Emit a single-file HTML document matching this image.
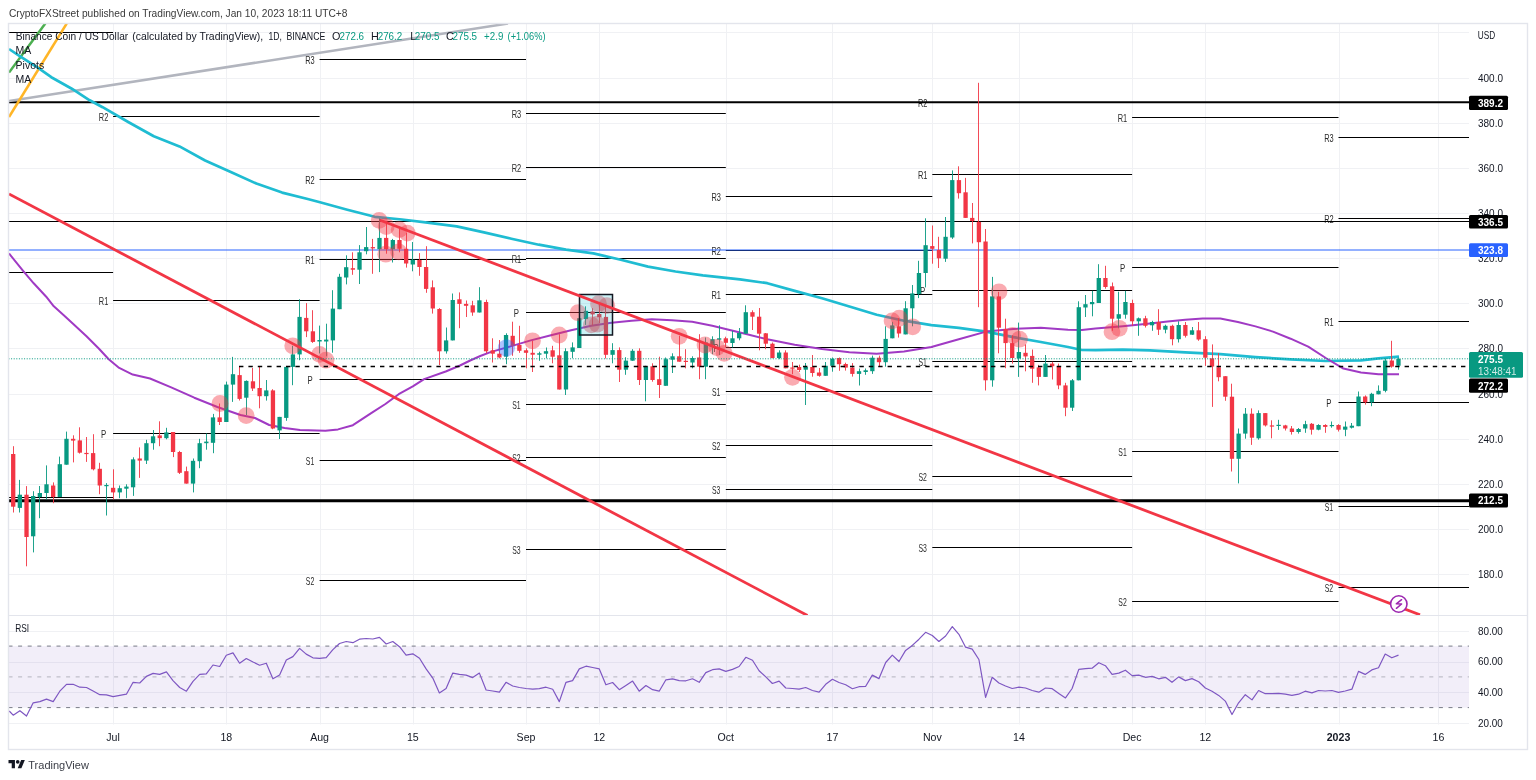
<!DOCTYPE html>
<html><head><meta charset="utf-8"><style>html,body{margin:0;padding:0;background:#fff;width:1536px;height:780px;overflow:hidden}</style></head><body>
<svg width="1536" height="780" viewBox="0 0 1536 780" style="display:block">
<defs>
<clipPath id="cm"><rect x="9.0" y="24.0" width="1460.0" height="591.0"/></clipPath>
<clipPath id="cr"><rect x="9.0" y="616.0" width="1460.0" height="108.5"/></clipPath>
</defs>
<rect width="1536" height="780" fill="#fff"/>
<text x="8.9" y="16.6" font-family="'Liberation Sans', Arial, sans-serif" font-size="10.6" fill="#3a3a3a" textLength="338.6" lengthAdjust="spacingAndGlyphs">CryptoFXStreet published on TradingView.com, Jan 10, 2023 18:11 UTC+8</text>
<line x1="113.5" y1="23.5" x2="113.5" y2="724.5" stroke="#f0f1f4" stroke-width="1"/>
<line x1="226.5" y1="23.5" x2="226.5" y2="724.5" stroke="#f0f1f4" stroke-width="1"/>
<line x1="320.5" y1="23.5" x2="320.5" y2="724.5" stroke="#f0f1f4" stroke-width="1"/>
<line x1="413.5" y1="23.5" x2="413.5" y2="724.5" stroke="#f0f1f4" stroke-width="1"/>
<line x1="526.5" y1="23.5" x2="526.5" y2="724.5" stroke="#f0f1f4" stroke-width="1"/>
<line x1="599.5" y1="23.5" x2="599.5" y2="724.5" stroke="#f0f1f4" stroke-width="1"/>
<line x1="726.5" y1="23.5" x2="726.5" y2="724.5" stroke="#f0f1f4" stroke-width="1"/>
<line x1="832.5" y1="23.5" x2="832.5" y2="724.5" stroke="#f0f1f4" stroke-width="1"/>
<line x1="932.5" y1="23.5" x2="932.5" y2="724.5" stroke="#f0f1f4" stroke-width="1"/>
<line x1="1019.5" y1="23.5" x2="1019.5" y2="724.5" stroke="#f0f1f4" stroke-width="1"/>
<line x1="1132.5" y1="23.5" x2="1132.5" y2="724.5" stroke="#f0f1f4" stroke-width="1"/>
<line x1="1205.5" y1="23.5" x2="1205.5" y2="724.5" stroke="#f0f1f4" stroke-width="1"/>
<line x1="1339.5" y1="23.5" x2="1339.5" y2="724.5" stroke="#f0f1f4" stroke-width="1"/>
<line x1="1438.5" y1="23.5" x2="1438.5" y2="724.5" stroke="#f0f1f4" stroke-width="1"/>
<line x1="8.5" y1="574.5" x2="1469.0" y2="574.5" stroke="#f0f1f4" stroke-width="1"/>
<line x1="8.5" y1="529.5" x2="1469.0" y2="529.5" stroke="#f0f1f4" stroke-width="1"/>
<line x1="8.5" y1="484.5" x2="1469.0" y2="484.5" stroke="#f0f1f4" stroke-width="1"/>
<line x1="8.5" y1="439.5" x2="1469.0" y2="439.5" stroke="#f0f1f4" stroke-width="1"/>
<line x1="8.5" y1="394.5" x2="1469.0" y2="394.5" stroke="#f0f1f4" stroke-width="1"/>
<line x1="8.5" y1="348.5" x2="1469.0" y2="348.5" stroke="#f0f1f4" stroke-width="1"/>
<line x1="8.5" y1="303.5" x2="1469.0" y2="303.5" stroke="#f0f1f4" stroke-width="1"/>
<line x1="8.5" y1="258.5" x2="1469.0" y2="258.5" stroke="#f0f1f4" stroke-width="1"/>
<line x1="8.5" y1="213.5" x2="1469.0" y2="213.5" stroke="#f0f1f4" stroke-width="1"/>
<line x1="8.5" y1="168.5" x2="1469.0" y2="168.5" stroke="#f0f1f4" stroke-width="1"/>
<line x1="8.5" y1="123.5" x2="1469.0" y2="123.5" stroke="#f0f1f4" stroke-width="1"/>
<line x1="8.5" y1="78.5" x2="1469.0" y2="78.5" stroke="#f0f1f4" stroke-width="1"/>
<line x1="8.5" y1="32.5" x2="1469.0" y2="32.5" stroke="#f0f1f4" stroke-width="1"/>
<line x1="8.5" y1="631.5" x2="1469.0" y2="631.5" stroke="#f0f1f4" stroke-width="1"/>
<line x1="8.5" y1="662.5" x2="1469.0" y2="662.5" stroke="#f0f1f4" stroke-width="1"/>
<line x1="8.5" y1="692.5" x2="1469.0" y2="692.5" stroke="#f0f1f4" stroke-width="1"/>
<line x1="8.5" y1="723.5" x2="1469.0" y2="723.5" stroke="#f0f1f4" stroke-width="1"/>
<g clip-path="url(#cm)">
<line x1="8.5" y1="32.5" x2="113.1" y2="32.5" stroke="#000" stroke-width="1"/>
<line x1="8.5" y1="272.5" x2="113.1" y2="272.5" stroke="#000" stroke-width="1"/>
<line x1="8.5" y1="497.5" x2="113.1" y2="497.5" stroke="#000" stroke-width="1"/>
<line x1="113.1" y1="116.5" x2="319.6" y2="116.5" stroke="#000" stroke-width="1"/>
<text x="98.8" y="121.1" font-family="'Liberation Sans', Arial, sans-serif" font-size="10.5" fill="#2a2a2a" textLength="9.5" lengthAdjust="spacingAndGlyphs">R2</text>
<line x1="113.1" y1="300.5" x2="319.6" y2="300.5" stroke="#000" stroke-width="1"/>
<text x="98.8" y="305.2" font-family="'Liberation Sans', Arial, sans-serif" font-size="10.5" fill="#2a2a2a" textLength="9.5" lengthAdjust="spacingAndGlyphs">R1</text>
<line x1="113.1" y1="433.5" x2="319.6" y2="433.5" stroke="#000" stroke-width="1"/>
<text x="100.9" y="438.2" font-family="'Liberation Sans', Arial, sans-serif" font-size="10.5" fill="#2a2a2a" textLength="5.2" lengthAdjust="spacingAndGlyphs">P</text>
<line x1="319.6" y1="59.5" x2="526.0" y2="59.5" stroke="#000" stroke-width="1"/>
<text x="305.2" y="63.9" font-family="'Liberation Sans', Arial, sans-serif" font-size="10.5" fill="#2a2a2a" textLength="9.5" lengthAdjust="spacingAndGlyphs">R3</text>
<line x1="319.6" y1="179.5" x2="526.0" y2="179.5" stroke="#000" stroke-width="1"/>
<text x="305.2" y="183.8" font-family="'Liberation Sans', Arial, sans-serif" font-size="10.5" fill="#2a2a2a" textLength="9.5" lengthAdjust="spacingAndGlyphs">R2</text>
<line x1="319.6" y1="259.5" x2="526.0" y2="259.5" stroke="#000" stroke-width="1"/>
<text x="305.2" y="264.4" font-family="'Liberation Sans', Arial, sans-serif" font-size="10.5" fill="#2a2a2a" textLength="9.5" lengthAdjust="spacingAndGlyphs">R1</text>
<line x1="319.6" y1="379.5" x2="526.0" y2="379.5" stroke="#000" stroke-width="1"/>
<text x="307.4" y="384.4" font-family="'Liberation Sans', Arial, sans-serif" font-size="10.5" fill="#2a2a2a" textLength="5.2" lengthAdjust="spacingAndGlyphs">P</text>
<line x1="319.6" y1="460.5" x2="526.0" y2="460.5" stroke="#000" stroke-width="1"/>
<text x="305.8" y="465.1" font-family="'Liberation Sans', Arial, sans-serif" font-size="10.5" fill="#2a2a2a" textLength="8.4" lengthAdjust="spacingAndGlyphs">S1</text>
<line x1="319.6" y1="580.5" x2="526.0" y2="580.5" stroke="#000" stroke-width="1"/>
<text x="305.8" y="584.9" font-family="'Liberation Sans', Arial, sans-serif" font-size="10.5" fill="#2a2a2a" textLength="8.4" lengthAdjust="spacingAndGlyphs">S2</text>
<line x1="526.0" y1="113.5" x2="725.8" y2="113.5" stroke="#000" stroke-width="1"/>
<text x="511.7" y="117.8" font-family="'Liberation Sans', Arial, sans-serif" font-size="10.5" fill="#2a2a2a" textLength="9.5" lengthAdjust="spacingAndGlyphs">R3</text>
<line x1="526.0" y1="167.5" x2="725.8" y2="167.5" stroke="#000" stroke-width="1"/>
<text x="511.7" y="171.8" font-family="'Liberation Sans', Arial, sans-serif" font-size="10.5" fill="#2a2a2a" textLength="9.5" lengthAdjust="spacingAndGlyphs">R2</text>
<line x1="526.0" y1="258.5" x2="725.8" y2="258.5" stroke="#000" stroke-width="1"/>
<text x="511.7" y="263.0" font-family="'Liberation Sans', Arial, sans-serif" font-size="10.5" fill="#2a2a2a" textLength="9.5" lengthAdjust="spacingAndGlyphs">R1</text>
<line x1="526.0" y1="312.5" x2="725.8" y2="312.5" stroke="#000" stroke-width="1"/>
<text x="513.8" y="316.8" font-family="'Liberation Sans', Arial, sans-serif" font-size="10.5" fill="#2a2a2a" textLength="5.2" lengthAdjust="spacingAndGlyphs">P</text>
<line x1="526.0" y1="404.5" x2="725.8" y2="404.5" stroke="#000" stroke-width="1"/>
<text x="512.2" y="409.0" font-family="'Liberation Sans', Arial, sans-serif" font-size="10.5" fill="#2a2a2a" textLength="8.4" lengthAdjust="spacingAndGlyphs">S1</text>
<line x1="526.0" y1="457.5" x2="725.8" y2="457.5" stroke="#000" stroke-width="1"/>
<text x="512.2" y="462.2" font-family="'Liberation Sans', Arial, sans-serif" font-size="10.5" fill="#2a2a2a" textLength="8.4" lengthAdjust="spacingAndGlyphs">S2</text>
<line x1="526.0" y1="549.5" x2="725.8" y2="549.5" stroke="#000" stroke-width="1"/>
<text x="512.2" y="554.0" font-family="'Liberation Sans', Arial, sans-serif" font-size="10.5" fill="#2a2a2a" textLength="8.4" lengthAdjust="spacingAndGlyphs">S3</text>
<line x1="725.8" y1="196.5" x2="932.3" y2="196.5" stroke="#000" stroke-width="1"/>
<text x="711.5" y="201.0" font-family="'Liberation Sans', Arial, sans-serif" font-size="10.5" fill="#2a2a2a" textLength="9.5" lengthAdjust="spacingAndGlyphs">R3</text>
<line x1="725.8" y1="250.5" x2="932.3" y2="250.5" stroke="#000" stroke-width="1"/>
<text x="711.5" y="254.6" font-family="'Liberation Sans', Arial, sans-serif" font-size="10.5" fill="#2a2a2a" textLength="9.5" lengthAdjust="spacingAndGlyphs">R2</text>
<line x1="725.8" y1="294.5" x2="932.3" y2="294.5" stroke="#000" stroke-width="1"/>
<text x="711.5" y="299.0" font-family="'Liberation Sans', Arial, sans-serif" font-size="10.5" fill="#2a2a2a" textLength="9.5" lengthAdjust="spacingAndGlyphs">R1</text>
<line x1="725.8" y1="347.5" x2="932.3" y2="347.5" stroke="#000" stroke-width="1"/>
<text x="713.6" y="352.1" font-family="'Liberation Sans', Arial, sans-serif" font-size="10.5" fill="#2a2a2a" textLength="5.2" lengthAdjust="spacingAndGlyphs">P</text>
<line x1="725.8" y1="391.5" x2="932.3" y2="391.5" stroke="#000" stroke-width="1"/>
<text x="712.0" y="395.9" font-family="'Liberation Sans', Arial, sans-serif" font-size="10.5" fill="#2a2a2a" textLength="8.4" lengthAdjust="spacingAndGlyphs">S1</text>
<line x1="725.8" y1="445.5" x2="932.3" y2="445.5" stroke="#000" stroke-width="1"/>
<text x="712.0" y="450.4" font-family="'Liberation Sans', Arial, sans-serif" font-size="10.5" fill="#2a2a2a" textLength="8.4" lengthAdjust="spacingAndGlyphs">S2</text>
<line x1="725.8" y1="489.5" x2="932.3" y2="489.5" stroke="#000" stroke-width="1"/>
<text x="712.0" y="493.9" font-family="'Liberation Sans', Arial, sans-serif" font-size="10.5" fill="#2a2a2a" textLength="8.4" lengthAdjust="spacingAndGlyphs">S3</text>
<line x1="932.3" y1="102.5" x2="1132.1" y2="102.5" stroke="#000" stroke-width="1"/>
<text x="917.9" y="107.3" font-family="'Liberation Sans', Arial, sans-serif" font-size="10.5" fill="#2a2a2a" textLength="9.5" lengthAdjust="spacingAndGlyphs">R2</text>
<line x1="932.3" y1="174.5" x2="1132.1" y2="174.5" stroke="#000" stroke-width="1"/>
<text x="917.9" y="178.9" font-family="'Liberation Sans', Arial, sans-serif" font-size="10.5" fill="#2a2a2a" textLength="9.5" lengthAdjust="spacingAndGlyphs">R1</text>
<line x1="932.3" y1="290.5" x2="1132.1" y2="290.5" stroke="#000" stroke-width="1"/>
<text x="920.1" y="294.7" font-family="'Liberation Sans', Arial, sans-serif" font-size="10.5" fill="#2a2a2a" textLength="5.2" lengthAdjust="spacingAndGlyphs">P</text>
<line x1="932.3" y1="361.5" x2="1132.1" y2="361.5" stroke="#000" stroke-width="1"/>
<text x="918.5" y="366.2" font-family="'Liberation Sans', Arial, sans-serif" font-size="10.5" fill="#2a2a2a" textLength="8.4" lengthAdjust="spacingAndGlyphs">S1</text>
<line x1="932.3" y1="476.5" x2="1132.1" y2="476.5" stroke="#000" stroke-width="1"/>
<text x="918.5" y="481.0" font-family="'Liberation Sans', Arial, sans-serif" font-size="10.5" fill="#2a2a2a" textLength="8.4" lengthAdjust="spacingAndGlyphs">S2</text>
<line x1="932.3" y1="547.5" x2="1132.1" y2="547.5" stroke="#000" stroke-width="1"/>
<text x="918.5" y="552.1" font-family="'Liberation Sans', Arial, sans-serif" font-size="10.5" fill="#2a2a2a" textLength="8.4" lengthAdjust="spacingAndGlyphs">S3</text>
<line x1="1132.1" y1="117.5" x2="1338.5" y2="117.5" stroke="#000" stroke-width="1"/>
<text x="1117.7" y="122.2" font-family="'Liberation Sans', Arial, sans-serif" font-size="10.5" fill="#2a2a2a" textLength="9.5" lengthAdjust="spacingAndGlyphs">R1</text>
<line x1="1132.1" y1="267.5" x2="1338.5" y2="267.5" stroke="#000" stroke-width="1"/>
<text x="1119.9" y="272.3" font-family="'Liberation Sans', Arial, sans-serif" font-size="10.5" fill="#2a2a2a" textLength="5.2" lengthAdjust="spacingAndGlyphs">P</text>
<line x1="1132.1" y1="451.5" x2="1338.5" y2="451.5" stroke="#000" stroke-width="1"/>
<text x="1118.3" y="456.4" font-family="'Liberation Sans', Arial, sans-serif" font-size="10.5" fill="#2a2a2a" textLength="8.4" lengthAdjust="spacingAndGlyphs">S1</text>
<line x1="1132.1" y1="601.5" x2="1338.5" y2="601.5" stroke="#000" stroke-width="1"/>
<text x="1118.3" y="606.4" font-family="'Liberation Sans', Arial, sans-serif" font-size="10.5" fill="#2a2a2a" textLength="8.4" lengthAdjust="spacingAndGlyphs">S2</text>
<line x1="1338.5" y1="137.5" x2="1469.0" y2="137.5" stroke="#000" stroke-width="1"/>
<text x="1324.2" y="141.8" font-family="'Liberation Sans', Arial, sans-serif" font-size="10.5" fill="#2a2a2a" textLength="9.5" lengthAdjust="spacingAndGlyphs">R3</text>
<line x1="1338.5" y1="218.5" x2="1469.0" y2="218.5" stroke="#000" stroke-width="1"/>
<text x="1324.2" y="223.1" font-family="'Liberation Sans', Arial, sans-serif" font-size="10.5" fill="#2a2a2a" textLength="9.5" lengthAdjust="spacingAndGlyphs">R2</text>
<line x1="1338.5" y1="321.5" x2="1469.0" y2="321.5" stroke="#000" stroke-width="1"/>
<text x="1324.2" y="326.2" font-family="'Liberation Sans', Arial, sans-serif" font-size="10.5" fill="#2a2a2a" textLength="9.5" lengthAdjust="spacingAndGlyphs">R1</text>
<line x1="1338.5" y1="402.5" x2="1469.0" y2="402.5" stroke="#000" stroke-width="1"/>
<text x="1326.3" y="407.1" font-family="'Liberation Sans', Arial, sans-serif" font-size="10.5" fill="#2a2a2a" textLength="5.2" lengthAdjust="spacingAndGlyphs">P</text>
<line x1="1338.5" y1="506.5" x2="1469.0" y2="506.5" stroke="#000" stroke-width="1"/>
<text x="1324.7" y="510.8" font-family="'Liberation Sans', Arial, sans-serif" font-size="10.5" fill="#2a2a2a" textLength="8.4" lengthAdjust="spacingAndGlyphs">S1</text>
<line x1="1338.5" y1="587.5" x2="1469.0" y2="587.5" stroke="#000" stroke-width="1"/>
<text x="1324.7" y="592.3" font-family="'Liberation Sans', Arial, sans-serif" font-size="10.5" fill="#2a2a2a" textLength="8.4" lengthAdjust="spacingAndGlyphs">S2</text>
<line x1="8.5" y1="102.3" x2="1469.0" y2="102.3" stroke="#000" stroke-width="2"/>
<line x1="8.5" y1="500.7" x2="1469.0" y2="500.7" stroke="#000" stroke-width="3"/>
<line x1="8.5" y1="221.5" x2="1469.0" y2="221.5" stroke="#000" stroke-width="1"/>
<line x1="8.5" y1="250" x2="1469.0" y2="250" stroke="#2962FF" stroke-width="1"/>
<line x1="9" y1="101" x2="508" y2="23.5" stroke="#b2b5be" stroke-width="2.5"/>
<line x1="9" y1="72.5" x2="45.3" y2="23.5" stroke="#4caf50" stroke-width="2.5"/>
<line x1="9" y1="117" x2="66.7" y2="23.5" stroke="#ffb526" stroke-width="2.5"/>
<polyline points="9.0,49.0 20.5,56.7 38.5,68.2 51.3,77.2 71.8,88.7 89.7,100.3 102.6,107.2 128.2,122.0 153.8,136.2 179.5,146.4 205.1,160.5 230.8,172.0 256.4,183.6 282.1,192.6 307.7,199.0 320.0,202.3 347.3,209.7 374.7,216.8 402.0,219.5 429.4,222.8 456.7,226.4 484.0,232.4 511.4,238.7 538.8,244.7 566.0,249.6 593.4,253.4 620.8,259.7 648.0,266.6 675.5,271.5 702.8,275.3 740.0,279.4 767.3,283.2 794.7,290.9 822.0,298.3 849.4,306.5 876.7,314.7 904.0,320.7 931.4,325.1 958.8,327.8 986.1,331.6 1013.4,337.1 1040.8,342.0 1068.0,347.0 1081.8,350.0 1095.5,350.2 1122.8,349.7 1150.0,350.4 1185.2,352.4 1220.3,354.1 1255.5,357.1 1290.6,359.4 1325.8,361.0 1361.0,360.3 1378.5,358.4 1399.0,356.6" fill="none" stroke="#1fbcd2" stroke-width="2.7" stroke-linejoin="round"/>
<polyline points="9.0,253.5 23.1,270.8 33.7,283.3 46.2,296.7 53.8,306.3 63.5,315.0 73.0,323.7 86.5,336.2 99.0,348.7 108.7,359.2 119.2,367.9 132.7,374.6 150.0,378.5 171.2,387.3 194.3,397.7 217.4,407.0 240.5,415.0 255.0,418.0 269.2,425.0 284.6,428.0 300.0,430.1 325.4,430.8 338.0,429.4 352.9,425.2 371.2,413.2 385.4,404.0 398.7,394.2 412.8,386.4 424.1,379.1 445.7,371.5 460.0,365.5 470.2,360.5 480.3,356.0 490.4,352.1 510.6,346.4 530.8,340.4 551.0,335.3 571.1,330.3 591.3,325.8 611.5,322.8 631.6,320.8 651.8,319.2 672.0,320.2 692.2,321.8 712.3,325.8 740.0,332.5 767.3,339.3 794.7,344.8 822.0,348.9 849.4,352.2 876.7,353.8 904.0,351.6 931.4,347.0 958.8,339.3 986.1,331.6 1013.4,328.9 1040.8,327.8 1068.0,329.7 1081.8,330.0 1095.5,328.4 1122.8,326.2 1150.0,323.5 1167.6,321.4 1185.2,319.7 1202.7,318.5 1220.3,318.6 1237.9,322.0 1255.5,326.4 1273.0,331.6 1290.6,338.7 1308.2,346.6 1325.8,358.0 1343.4,368.6 1361.0,372.4 1378.5,374.2 1399.0,374.2" fill="none" stroke="#a03ac4" stroke-width="2" stroke-linejoin="round"/>
<line x1="13.5" y1="446.2" x2="13.5" y2="512.5" stroke="#F23645" stroke-width="1" stroke-opacity="0.9"/>
<rect x="11.05" y="454.0" width="4.3" height="52.7" fill="#F23645"/>
<line x1="19.5" y1="479.9" x2="19.5" y2="512.5" stroke="#089981" stroke-width="1" stroke-opacity="0.9"/>
<rect x="17.71" y="494.7" width="4.3" height="13.2" fill="#089981"/>
<line x1="26.5" y1="486.1" x2="26.5" y2="566.3" stroke="#F23645" stroke-width="1" stroke-opacity="0.9"/>
<rect x="24.37" y="494.7" width="4.3" height="42.3" fill="#F23645"/>
<line x1="33.5" y1="491.2" x2="33.5" y2="552.4" stroke="#089981" stroke-width="1" stroke-opacity="0.9"/>
<rect x="31.03" y="496.0" width="4.3" height="40.3" fill="#089981"/>
<line x1="39.5" y1="486.0" x2="39.5" y2="518.2" stroke="#089981" stroke-width="1" stroke-opacity="0.9"/>
<rect x="37.69" y="493.0" width="4.3" height="4.0" fill="#089981"/>
<line x1="46.5" y1="465.4" x2="46.5" y2="499.3" stroke="#089981" stroke-width="1" stroke-opacity="0.9"/>
<rect x="44.35" y="484.3" width="4.3" height="8.7" fill="#089981"/>
<line x1="53.5" y1="482.4" x2="53.5" y2="503.2" stroke="#F23645" stroke-width="1" stroke-opacity="0.9"/>
<rect x="51.01" y="485.5" width="4.3" height="11.5" fill="#F23645"/>
<line x1="59.5" y1="456.6" x2="59.5" y2="497.0" stroke="#089981" stroke-width="1" stroke-opacity="0.9"/>
<rect x="57.67" y="464.2" width="4.3" height="32.8" fill="#089981"/>
<line x1="66.5" y1="431.6" x2="66.5" y2="464.7" stroke="#089981" stroke-width="1" stroke-opacity="0.9"/>
<rect x="64.33" y="438.8" width="4.3" height="25.9" fill="#089981"/>
<line x1="73.5" y1="435.3" x2="73.5" y2="462.4" stroke="#F23645" stroke-width="1" stroke-opacity="0.9"/>
<rect x="70.99" y="438.8" width="4.3" height="1.8" fill="#F23645"/>
<line x1="79.5" y1="427.3" x2="79.5" y2="453.6" stroke="#F23645" stroke-width="1" stroke-opacity="0.9"/>
<rect x="77.65" y="440.4" width="4.3" height="12.3" fill="#F23645"/>
<line x1="86.5" y1="437.0" x2="86.5" y2="461.9" stroke="#F23645" stroke-width="1" stroke-opacity="0.9"/>
<rect x="84.31" y="452.9" width="4.3" height="1.2" fill="#F23645"/>
<line x1="93.5" y1="434.2" x2="93.5" y2="470.4" stroke="#F23645" stroke-width="1" stroke-opacity="0.9"/>
<rect x="90.97" y="453.1" width="4.3" height="16.2" fill="#F23645"/>
<line x1="99.5" y1="462.8" x2="99.5" y2="494.2" stroke="#F23645" stroke-width="1" stroke-opacity="0.9"/>
<rect x="97.63" y="468.8" width="4.3" height="16.7" fill="#F23645"/>
<line x1="106.5" y1="483.1" x2="106.5" y2="515.5" stroke="#089981" stroke-width="1" stroke-opacity="0.9"/>
<rect x="104.29" y="485.0" width="4.3" height="1.2" fill="#089981"/>
<line x1="113.5" y1="469.3" x2="113.5" y2="499.3" stroke="#F23645" stroke-width="1" stroke-opacity="0.9"/>
<rect x="110.95" y="487.8" width="4.3" height="4.6" fill="#F23645"/>
<line x1="119.5" y1="485.5" x2="119.5" y2="498.2" stroke="#089981" stroke-width="1" stroke-opacity="0.9"/>
<rect x="117.61" y="488.2" width="4.3" height="4.2" fill="#089981"/>
<line x1="126.5" y1="484.3" x2="126.5" y2="498.2" stroke="#089981" stroke-width="1" stroke-opacity="0.9"/>
<rect x="124.27" y="486.6" width="4.3" height="2.1" fill="#089981"/>
<line x1="133.5" y1="457.3" x2="133.5" y2="495.9" stroke="#089981" stroke-width="1" stroke-opacity="0.9"/>
<rect x="130.93" y="459.4" width="4.3" height="27.9" fill="#089981"/>
<line x1="139.5" y1="447.4" x2="139.5" y2="477.9" stroke="#F23645" stroke-width="1" stroke-opacity="0.9"/>
<rect x="137.59" y="458.5" width="4.3" height="2.1" fill="#F23645"/>
<line x1="146.5" y1="439.8" x2="146.5" y2="464.0" stroke="#089981" stroke-width="1" stroke-opacity="0.9"/>
<rect x="144.25" y="443.2" width="4.3" height="17.4" fill="#089981"/>
<line x1="153.5" y1="430.0" x2="153.5" y2="449.7" stroke="#089981" stroke-width="1" stroke-opacity="0.9"/>
<rect x="150.91" y="436.3" width="4.3" height="6.9" fill="#089981"/>
<line x1="159.5" y1="421.3" x2="159.5" y2="446.2" stroke="#F23645" stroke-width="1" stroke-opacity="0.9"/>
<rect x="157.57" y="435.4" width="4.3" height="2.8" fill="#F23645"/>
<line x1="166.5" y1="427.8" x2="166.5" y2="439.3" stroke="#089981" stroke-width="1" stroke-opacity="0.9"/>
<rect x="164.23" y="432.4" width="4.3" height="5.8" fill="#089981"/>
<line x1="173.5" y1="432.0" x2="173.5" y2="457.1" stroke="#F23645" stroke-width="1" stroke-opacity="0.9"/>
<rect x="170.89" y="432.0" width="4.3" height="20.0" fill="#F23645"/>
<line x1="179.5" y1="450.9" x2="179.5" y2="474.0" stroke="#F23645" stroke-width="1" stroke-opacity="0.9"/>
<rect x="177.55" y="452.0" width="4.3" height="20.8" fill="#F23645"/>
<line x1="186.5" y1="466.6" x2="186.5" y2="483.6" stroke="#F23645" stroke-width="1" stroke-opacity="0.9"/>
<rect x="184.21" y="471.2" width="4.3" height="12.4" fill="#F23645"/>
<line x1="193.5" y1="458.5" x2="193.5" y2="492.4" stroke="#089981" stroke-width="1" stroke-opacity="0.9"/>
<rect x="190.87" y="460.8" width="4.3" height="22.8" fill="#089981"/>
<line x1="199.5" y1="438.8" x2="199.5" y2="468.2" stroke="#089981" stroke-width="1" stroke-opacity="0.9"/>
<rect x="197.53" y="443.2" width="4.3" height="18.0" fill="#089981"/>
<line x1="206.5" y1="433.5" x2="206.5" y2="449.7" stroke="#089981" stroke-width="1" stroke-opacity="0.9"/>
<rect x="204.19" y="441.6" width="4.3" height="1.6" fill="#089981"/>
<line x1="213.5" y1="413.9" x2="213.5" y2="453.2" stroke="#089981" stroke-width="1" stroke-opacity="0.9"/>
<rect x="210.85" y="417.4" width="4.3" height="25.4" fill="#089981"/>
<line x1="219.5" y1="403.5" x2="219.5" y2="425.0" stroke="#F23645" stroke-width="1" stroke-opacity="0.9"/>
<rect x="217.51" y="417.4" width="4.3" height="4.6" fill="#F23645"/>
<line x1="226.5" y1="381.6" x2="226.5" y2="422.0" stroke="#089981" stroke-width="1" stroke-opacity="0.9"/>
<rect x="224.17" y="384.6" width="4.3" height="37.4" fill="#089981"/>
<line x1="232.5" y1="356.9" x2="232.5" y2="401.9" stroke="#089981" stroke-width="1" stroke-opacity="0.9"/>
<rect x="230.83" y="374.2" width="4.3" height="10.4" fill="#089981"/>
<line x1="239.5" y1="366.6" x2="239.5" y2="400.5" stroke="#F23645" stroke-width="1" stroke-opacity="0.9"/>
<rect x="237.49" y="375.1" width="4.3" height="23.8" fill="#F23645"/>
<line x1="246.5" y1="380.4" x2="246.5" y2="415.0" stroke="#089981" stroke-width="1" stroke-opacity="0.9"/>
<rect x="244.15" y="380.9" width="4.3" height="16.8" fill="#089981"/>
<line x1="252.5" y1="367.9" x2="252.5" y2="391.0" stroke="#F23645" stroke-width="1" stroke-opacity="0.9"/>
<rect x="250.81" y="381.3" width="4.3" height="7.2" fill="#F23645"/>
<line x1="259.5" y1="366.5" x2="259.5" y2="408.3" stroke="#F23645" stroke-width="1" stroke-opacity="0.9"/>
<rect x="257.47" y="388.0" width="4.3" height="8.2" fill="#F23645"/>
<line x1="266.5" y1="380.0" x2="266.5" y2="400.6" stroke="#089981" stroke-width="1" stroke-opacity="0.9"/>
<rect x="264.13" y="390.4" width="4.3" height="5.8" fill="#089981"/>
<line x1="272.5" y1="389.2" x2="272.5" y2="429.2" stroke="#F23645" stroke-width="1" stroke-opacity="0.9"/>
<rect x="270.79" y="390.4" width="4.3" height="38.1" fill="#F23645"/>
<line x1="279.5" y1="416.9" x2="279.5" y2="439.0" stroke="#089981" stroke-width="1" stroke-opacity="0.9"/>
<rect x="277.45" y="416.9" width="4.3" height="13.5" fill="#089981"/>
<line x1="286.5" y1="366.5" x2="286.5" y2="420.8" stroke="#089981" stroke-width="1" stroke-opacity="0.9"/>
<rect x="284.11" y="366.9" width="4.3" height="51.0" fill="#089981"/>
<line x1="292.5" y1="345.8" x2="292.5" y2="385.2" stroke="#089981" stroke-width="1" stroke-opacity="0.9"/>
<rect x="290.77" y="354.4" width="4.3" height="12.5" fill="#089981"/>
<line x1="299.5" y1="299.2" x2="299.5" y2="360.2" stroke="#089981" stroke-width="1" stroke-opacity="0.9"/>
<rect x="297.43" y="316.9" width="4.3" height="37.5" fill="#089981"/>
<line x1="306.5" y1="303.1" x2="306.5" y2="337.1" stroke="#F23645" stroke-width="1" stroke-opacity="0.9"/>
<rect x="304.09" y="317.9" width="4.3" height="13.4" fill="#F23645"/>
<line x1="312.5" y1="310.2" x2="312.5" y2="342.9" stroke="#F23645" stroke-width="1" stroke-opacity="0.9"/>
<rect x="310.75" y="331.3" width="4.3" height="10.6" fill="#F23645"/>
<line x1="319.5" y1="325.6" x2="319.5" y2="353.5" stroke="#089981" stroke-width="1" stroke-opacity="0.9"/>
<rect x="317.41" y="340.0" width="4.3" height="1.5" fill="#089981"/>
<line x1="326.5" y1="323.7" x2="326.5" y2="356.3" stroke="#089981" stroke-width="1" stroke-opacity="0.9"/>
<rect x="324.07" y="339.6" width="4.3" height="1.9" fill="#089981"/>
<line x1="332.5" y1="290.2" x2="332.5" y2="352.7" stroke="#089981" stroke-width="1" stroke-opacity="0.9"/>
<rect x="330.73" y="308.6" width="4.3" height="31.8" fill="#089981"/>
<line x1="339.5" y1="273.8" x2="339.5" y2="309.2" stroke="#089981" stroke-width="1" stroke-opacity="0.9"/>
<rect x="337.39" y="276.8" width="4.3" height="32.4" fill="#089981"/>
<line x1="346.5" y1="255.3" x2="346.5" y2="284.4" stroke="#089981" stroke-width="1" stroke-opacity="0.9"/>
<rect x="344.05" y="267.2" width="4.3" height="10.3" fill="#089981"/>
<line x1="352.5" y1="252.3" x2="352.5" y2="274.8" stroke="#F23645" stroke-width="1" stroke-opacity="0.9"/>
<rect x="350.71" y="268.2" width="4.3" height="1.5" fill="#F23645"/>
<line x1="359.5" y1="245.1" x2="359.5" y2="284.0" stroke="#089981" stroke-width="1" stroke-opacity="0.9"/>
<rect x="357.37" y="252.3" width="4.3" height="17.4" fill="#089981"/>
<line x1="366.5" y1="227.0" x2="366.5" y2="254.3" stroke="#089981" stroke-width="1" stroke-opacity="0.9"/>
<rect x="364.03" y="247.1" width="4.3" height="4.1" fill="#089981"/>
<line x1="372.5" y1="238.9" x2="372.5" y2="273.8" stroke="#F23645" stroke-width="1" stroke-opacity="0.9"/>
<rect x="370.69" y="247.1" width="4.3" height="1.3" fill="#F23645"/>
<line x1="379.5" y1="218.4" x2="379.5" y2="272.1" stroke="#089981" stroke-width="1" stroke-opacity="0.9"/>
<rect x="377.35" y="237.9" width="4.3" height="11.3" fill="#089981"/>
<line x1="386.5" y1="221.5" x2="386.5" y2="253.7" stroke="#F23645" stroke-width="1" stroke-opacity="0.9"/>
<rect x="384.01" y="237.9" width="4.3" height="11.3" fill="#F23645"/>
<line x1="392.5" y1="238.9" x2="392.5" y2="262.5" stroke="#089981" stroke-width="1" stroke-opacity="0.9"/>
<rect x="390.67" y="240.0" width="4.3" height="9.2" fill="#089981"/>
<line x1="399.5" y1="228.7" x2="399.5" y2="252.3" stroke="#F23645" stroke-width="1" stroke-opacity="0.9"/>
<rect x="397.33" y="240.0" width="4.3" height="8.8" fill="#F23645"/>
<line x1="406.5" y1="232.8" x2="406.5" y2="267.6" stroke="#F23645" stroke-width="1" stroke-opacity="0.9"/>
<rect x="403.99" y="248.8" width="4.3" height="14.7" fill="#F23645"/>
<line x1="412.5" y1="242.0" x2="412.5" y2="271.3" stroke="#089981" stroke-width="1" stroke-opacity="0.9"/>
<rect x="410.65" y="259.8" width="4.3" height="4.7" fill="#089981"/>
<line x1="419.5" y1="253.1" x2="419.5" y2="275.8" stroke="#F23645" stroke-width="1" stroke-opacity="0.9"/>
<rect x="417.31" y="260.0" width="4.3" height="7.0" fill="#F23645"/>
<line x1="426.5" y1="246.2" x2="426.5" y2="292.8" stroke="#F23645" stroke-width="1" stroke-opacity="0.9"/>
<rect x="423.97" y="267.0" width="4.3" height="21.9" fill="#F23645"/>
<line x1="432.5" y1="280.4" x2="432.5" y2="313.6" stroke="#F23645" stroke-width="1" stroke-opacity="0.9"/>
<rect x="430.63" y="287.3" width="4.3" height="21.2" fill="#F23645"/>
<line x1="439.5" y1="308.1" x2="439.5" y2="365.1" stroke="#F23645" stroke-width="1" stroke-opacity="0.9"/>
<rect x="437.29" y="309.0" width="4.3" height="42.3" fill="#F23645"/>
<line x1="446.5" y1="327.5" x2="446.5" y2="353.6" stroke="#089981" stroke-width="1" stroke-opacity="0.9"/>
<rect x="443.95" y="340.4" width="4.3" height="10.9" fill="#089981"/>
<line x1="452.5" y1="293.5" x2="452.5" y2="340.4" stroke="#089981" stroke-width="1" stroke-opacity="0.9"/>
<rect x="450.61" y="300.0" width="4.3" height="40.4" fill="#089981"/>
<line x1="459.5" y1="292.4" x2="459.5" y2="328.2" stroke="#F23645" stroke-width="1" stroke-opacity="0.9"/>
<rect x="457.27" y="299.3" width="4.3" height="4.6" fill="#F23645"/>
<line x1="466.5" y1="300.5" x2="466.5" y2="317.0" stroke="#F23645" stroke-width="1" stroke-opacity="0.9"/>
<rect x="463.93" y="303.9" width="4.3" height="1.9" fill="#F23645"/>
<line x1="472.5" y1="300.8" x2="472.5" y2="315.8" stroke="#F23645" stroke-width="1" stroke-opacity="0.9"/>
<rect x="470.59" y="305.3" width="4.3" height="7.2" fill="#F23645"/>
<line x1="479.5" y1="287.2" x2="479.5" y2="312.5" stroke="#089981" stroke-width="1" stroke-opacity="0.9"/>
<rect x="477.25" y="300.3" width="4.3" height="12.2" fill="#089981"/>
<line x1="486.5" y1="299.7" x2="486.5" y2="353.3" stroke="#F23645" stroke-width="1" stroke-opacity="0.9"/>
<rect x="483.91" y="302.0" width="4.3" height="49.3" fill="#F23645"/>
<line x1="492.5" y1="338.3" x2="492.5" y2="362.5" stroke="#F23645" stroke-width="1" stroke-opacity="0.9"/>
<rect x="490.57" y="350.3" width="4.3" height="3.4" fill="#F23645"/>
<line x1="499.5" y1="340.0" x2="499.5" y2="358.3" stroke="#F23645" stroke-width="1" stroke-opacity="0.9"/>
<rect x="497.23" y="353.7" width="4.3" height="3.8" fill="#F23645"/>
<line x1="506.5" y1="333.3" x2="506.5" y2="364.2" stroke="#089981" stroke-width="1" stroke-opacity="0.9"/>
<rect x="503.89" y="335.0" width="4.3" height="21.7" fill="#089981"/>
<line x1="512.5" y1="321.7" x2="512.5" y2="355.8" stroke="#F23645" stroke-width="1" stroke-opacity="0.9"/>
<rect x="510.55" y="335.8" width="4.3" height="10.0" fill="#F23645"/>
<line x1="519.5" y1="325.8" x2="519.5" y2="352.8" stroke="#F23645" stroke-width="1" stroke-opacity="0.9"/>
<rect x="517.21" y="345.0" width="4.3" height="5.8" fill="#F23645"/>
<line x1="526.5" y1="348.3" x2="526.5" y2="368.3" stroke="#F23645" stroke-width="1" stroke-opacity="0.9"/>
<rect x="523.87" y="350.3" width="4.3" height="2.5" fill="#F23645"/>
<line x1="532.5" y1="340.8" x2="532.5" y2="372.0" stroke="#F23645" stroke-width="1" stroke-opacity="0.9"/>
<rect x="530.53" y="352.8" width="4.3" height="1.9" fill="#F23645"/>
<line x1="539.5" y1="351.7" x2="539.5" y2="360.8" stroke="#089981" stroke-width="1" stroke-opacity="0.9"/>
<rect x="537.19" y="353.3" width="4.3" height="1.4" fill="#089981"/>
<line x1="546.5" y1="347.5" x2="546.5" y2="358.3" stroke="#089981" stroke-width="1" stroke-opacity="0.9"/>
<rect x="543.85" y="351.2" width="4.3" height="2.5" fill="#089981"/>
<line x1="552.5" y1="345.8" x2="552.5" y2="363.3" stroke="#F23645" stroke-width="1" stroke-opacity="0.9"/>
<rect x="550.51" y="350.3" width="4.3" height="6.4" fill="#F23645"/>
<line x1="559.5" y1="334.2" x2="559.5" y2="389.5" stroke="#F23645" stroke-width="1" stroke-opacity="0.9"/>
<rect x="557.17" y="355.3" width="4.3" height="34.2" fill="#F23645"/>
<line x1="565.5" y1="348.3" x2="565.5" y2="395.0" stroke="#089981" stroke-width="1" stroke-opacity="0.9"/>
<rect x="563.83" y="351.2" width="4.3" height="38.3" fill="#089981"/>
<line x1="572.5" y1="342.4" x2="572.5" y2="358.2" stroke="#089981" stroke-width="1" stroke-opacity="0.9"/>
<rect x="570.49" y="347.4" width="4.3" height="4.4" fill="#089981"/>
<line x1="579.5" y1="318.2" x2="579.5" y2="348.0" stroke="#089981" stroke-width="1" stroke-opacity="0.9"/>
<rect x="577.15" y="318.2" width="4.3" height="29.8" fill="#089981"/>
<line x1="585.5" y1="306.3" x2="585.5" y2="324.9" stroke="#089981" stroke-width="1" stroke-opacity="0.9"/>
<rect x="583.81" y="310.8" width="4.3" height="8.3" fill="#089981"/>
<line x1="592.5" y1="308.2" x2="592.5" y2="325.5" stroke="#F23645" stroke-width="1" stroke-opacity="0.9"/>
<rect x="590.47" y="311.4" width="4.3" height="3.0" fill="#F23645"/>
<line x1="599.5" y1="305.0" x2="599.5" y2="323.0" stroke="#F23645" stroke-width="1" stroke-opacity="0.9"/>
<rect x="597.13" y="314.0" width="4.3" height="3.2" fill="#F23645"/>
<line x1="605.5" y1="306.3" x2="605.5" y2="358.5" stroke="#F23645" stroke-width="1" stroke-opacity="0.9"/>
<rect x="603.79" y="316.9" width="4.3" height="37.9" fill="#F23645"/>
<line x1="612.5" y1="343.2" x2="612.5" y2="363.3" stroke="#089981" stroke-width="1" stroke-opacity="0.9"/>
<rect x="610.45" y="350.1" width="4.3" height="4.7" fill="#089981"/>
<line x1="619.5" y1="347.4" x2="619.5" y2="382.0" stroke="#F23645" stroke-width="1" stroke-opacity="0.9"/>
<rect x="617.11" y="350.1" width="4.3" height="19.6" fill="#F23645"/>
<line x1="625.5" y1="357.2" x2="625.5" y2="374.8" stroke="#089981" stroke-width="1" stroke-opacity="0.9"/>
<rect x="623.77" y="360.6" width="4.3" height="9.1" fill="#089981"/>
<line x1="632.5" y1="349.2" x2="632.5" y2="360.8" stroke="#089981" stroke-width="1" stroke-opacity="0.9"/>
<rect x="630.43" y="350.8" width="4.3" height="9.9" fill="#089981"/>
<line x1="639.5" y1="348.3" x2="639.5" y2="385.0" stroke="#F23645" stroke-width="1" stroke-opacity="0.9"/>
<rect x="637.09" y="350.8" width="4.3" height="29.2" fill="#F23645"/>
<line x1="645.5" y1="365.8" x2="645.5" y2="401.3" stroke="#089981" stroke-width="1" stroke-opacity="0.9"/>
<rect x="643.75" y="366.3" width="4.3" height="13.7" fill="#089981"/>
<line x1="652.5" y1="363.3" x2="652.5" y2="381.7" stroke="#F23645" stroke-width="1" stroke-opacity="0.9"/>
<rect x="650.41" y="366.3" width="4.3" height="13.7" fill="#F23645"/>
<line x1="659.5" y1="356.7" x2="659.5" y2="398.0" stroke="#F23645" stroke-width="1" stroke-opacity="0.9"/>
<rect x="657.07" y="379.2" width="4.3" height="5.8" fill="#F23645"/>
<line x1="665.5" y1="357.5" x2="665.5" y2="385.8" stroke="#089981" stroke-width="1" stroke-opacity="0.9"/>
<rect x="663.73" y="359.2" width="4.3" height="26.6" fill="#089981"/>
<line x1="672.5" y1="353.3" x2="672.5" y2="373.0" stroke="#089981" stroke-width="1" stroke-opacity="0.9"/>
<rect x="670.39" y="356.3" width="4.3" height="3.4" fill="#089981"/>
<line x1="679.5" y1="335.8" x2="679.5" y2="361.7" stroke="#F23645" stroke-width="1" stroke-opacity="0.9"/>
<rect x="677.05" y="356.3" width="4.3" height="5.4" fill="#F23645"/>
<line x1="685.5" y1="349.2" x2="685.5" y2="368.3" stroke="#F23645" stroke-width="1" stroke-opacity="0.9"/>
<rect x="683.71" y="360.8" width="4.3" height="1.2" fill="#F23645"/>
<line x1="692.5" y1="356.3" x2="692.5" y2="368.3" stroke="#089981" stroke-width="1" stroke-opacity="0.9"/>
<rect x="690.37" y="358.0" width="4.3" height="4.5" fill="#089981"/>
<line x1="699.5" y1="334.2" x2="699.5" y2="379.2" stroke="#F23645" stroke-width="1" stroke-opacity="0.9"/>
<rect x="697.03" y="357.5" width="4.3" height="9.2" fill="#F23645"/>
<line x1="705.5" y1="337.5" x2="705.5" y2="379.2" stroke="#089981" stroke-width="1" stroke-opacity="0.9"/>
<rect x="703.69" y="342.5" width="4.3" height="24.2" fill="#089981"/>
<line x1="712.5" y1="336.3" x2="712.5" y2="354.2" stroke="#089981" stroke-width="1" stroke-opacity="0.9"/>
<rect x="710.35" y="339.2" width="4.3" height="5.8" fill="#089981"/>
<line x1="719.5" y1="325.3" x2="719.5" y2="355.0" stroke="#089981" stroke-width="1" stroke-opacity="0.9"/>
<rect x="717.01" y="338.3" width="4.3" height="1.4" fill="#089981"/>
<line x1="725.5" y1="336.7" x2="725.5" y2="347.5" stroke="#F23645" stroke-width="1" stroke-opacity="0.9"/>
<rect x="723.67" y="338.3" width="4.3" height="4.5" fill="#F23645"/>
<line x1="732.5" y1="330.8" x2="732.5" y2="347.5" stroke="#089981" stroke-width="1" stroke-opacity="0.9"/>
<rect x="730.33" y="338.3" width="4.3" height="4.7" fill="#089981"/>
<line x1="739.5" y1="328.0" x2="739.5" y2="340.3" stroke="#089981" stroke-width="1" stroke-opacity="0.9"/>
<rect x="736.99" y="333.0" width="4.3" height="5.3" fill="#089981"/>
<line x1="745.5" y1="305.3" x2="745.5" y2="333.7" stroke="#089981" stroke-width="1" stroke-opacity="0.9"/>
<rect x="743.65" y="312.2" width="4.3" height="21.5" fill="#089981"/>
<line x1="752.5" y1="310.3" x2="752.5" y2="330.0" stroke="#F23645" stroke-width="1" stroke-opacity="0.9"/>
<rect x="750.31" y="312.2" width="4.3" height="4.5" fill="#F23645"/>
<line x1="759.5" y1="308.0" x2="759.5" y2="350.3" stroke="#F23645" stroke-width="1" stroke-opacity="0.9"/>
<rect x="756.97" y="316.7" width="4.3" height="17.0" fill="#F23645"/>
<line x1="765.5" y1="333.0" x2="765.5" y2="349.2" stroke="#F23645" stroke-width="1" stroke-opacity="0.9"/>
<rect x="763.63" y="333.3" width="4.3" height="10.4" fill="#F23645"/>
<line x1="772.5" y1="342.5" x2="772.5" y2="358.3" stroke="#F23645" stroke-width="1" stroke-opacity="0.9"/>
<rect x="770.29" y="343.7" width="4.3" height="14.3" fill="#F23645"/>
<line x1="779.5" y1="350.3" x2="779.5" y2="359.2" stroke="#089981" stroke-width="1" stroke-opacity="0.9"/>
<rect x="776.95" y="352.5" width="4.3" height="5.5" fill="#089981"/>
<line x1="785.5" y1="350.3" x2="785.5" y2="368.3" stroke="#F23645" stroke-width="1" stroke-opacity="0.9"/>
<rect x="783.61" y="352.5" width="4.3" height="15.8" fill="#F23645"/>
<line x1="792.5" y1="362.0" x2="792.5" y2="374.2" stroke="#F23645" stroke-width="1" stroke-opacity="0.9"/>
<rect x="790.27" y="367.5" width="4.3" height="1.2" fill="#F23645"/>
<line x1="799.5" y1="364.7" x2="799.5" y2="372.0" stroke="#F23645" stroke-width="1" stroke-opacity="0.9"/>
<rect x="796.93" y="367.0" width="4.3" height="3.0" fill="#F23645"/>
<line x1="805.5" y1="363.0" x2="805.5" y2="405.0" stroke="#089981" stroke-width="1" stroke-opacity="0.9"/>
<rect x="803.59" y="367.0" width="4.3" height="2.7" fill="#089981"/>
<line x1="812.5" y1="355.0" x2="812.5" y2="376.7" stroke="#F23645" stroke-width="1" stroke-opacity="0.9"/>
<rect x="810.25" y="367.0" width="4.3" height="6.0" fill="#F23645"/>
<line x1="819.5" y1="368.0" x2="819.5" y2="376.7" stroke="#F23645" stroke-width="1" stroke-opacity="0.9"/>
<rect x="816.91" y="372.5" width="4.3" height="3.3" fill="#F23645"/>
<line x1="825.5" y1="362.0" x2="825.5" y2="375.8" stroke="#089981" stroke-width="1" stroke-opacity="0.9"/>
<rect x="823.57" y="365.8" width="4.3" height="10.0" fill="#089981"/>
<line x1="832.5" y1="357.5" x2="832.5" y2="371.7" stroke="#089981" stroke-width="1" stroke-opacity="0.9"/>
<rect x="830.23" y="358.7" width="4.3" height="7.1" fill="#089981"/>
<line x1="839.5" y1="357.5" x2="839.5" y2="370.8" stroke="#F23645" stroke-width="1" stroke-opacity="0.9"/>
<rect x="836.89" y="358.0" width="4.3" height="6.2" fill="#F23645"/>
<line x1="845.5" y1="362.7" x2="845.5" y2="370.6" stroke="#F23645" stroke-width="1" stroke-opacity="0.9"/>
<rect x="843.55" y="364.0" width="4.3" height="3.6" fill="#F23645"/>
<line x1="852.5" y1="363.1" x2="852.5" y2="376.6" stroke="#F23645" stroke-width="1" stroke-opacity="0.9"/>
<rect x="850.21" y="367.6" width="4.3" height="6.3" fill="#F23645"/>
<line x1="859.5" y1="368.5" x2="859.5" y2="385.5" stroke="#089981" stroke-width="1" stroke-opacity="0.9"/>
<rect x="856.87" y="371.2" width="4.3" height="2.7" fill="#089981"/>
<line x1="865.5" y1="368.5" x2="865.5" y2="374.8" stroke="#089981" stroke-width="1" stroke-opacity="0.9"/>
<rect x="863.53" y="370.3" width="4.3" height="1.7" fill="#089981"/>
<line x1="872.5" y1="355.6" x2="872.5" y2="373.9" stroke="#089981" stroke-width="1" stroke-opacity="0.9"/>
<rect x="870.19" y="357.7" width="4.3" height="13.5" fill="#089981"/>
<line x1="879.5" y1="355.6" x2="879.5" y2="366.7" stroke="#F23645" stroke-width="1" stroke-opacity="0.9"/>
<rect x="876.85" y="357.7" width="4.3" height="4.5" fill="#F23645"/>
<line x1="885.5" y1="326.3" x2="885.5" y2="366.7" stroke="#089981" stroke-width="1" stroke-opacity="0.9"/>
<rect x="883.51" y="338.9" width="4.3" height="23.3" fill="#089981"/>
<line x1="892.5" y1="321.8" x2="892.5" y2="338.3" stroke="#089981" stroke-width="1" stroke-opacity="0.9"/>
<rect x="890.17" y="325.4" width="4.3" height="12.9" fill="#089981"/>
<line x1="898.5" y1="318.2" x2="898.5" y2="337.6" stroke="#F23645" stroke-width="1" stroke-opacity="0.9"/>
<rect x="896.83" y="326.3" width="4.3" height="7.2" fill="#F23645"/>
<line x1="905.5" y1="301.2" x2="905.5" y2="334.4" stroke="#089981" stroke-width="1" stroke-opacity="0.9"/>
<rect x="903.49" y="308.3" width="4.3" height="26.1" fill="#089981"/>
<line x1="912.5" y1="285.0" x2="912.5" y2="326.3" stroke="#089981" stroke-width="1" stroke-opacity="0.9"/>
<rect x="910.15" y="293.4" width="4.3" height="14.9" fill="#089981"/>
<line x1="918.5" y1="260.8" x2="918.5" y2="298.1" stroke="#089981" stroke-width="1" stroke-opacity="0.9"/>
<rect x="916.81" y="273.0" width="4.3" height="21.0" fill="#089981"/>
<line x1="925.5" y1="218.3" x2="925.5" y2="287.4" stroke="#089981" stroke-width="1" stroke-opacity="0.9"/>
<rect x="923.47" y="245.2" width="4.3" height="27.8" fill="#089981"/>
<line x1="932.5" y1="225.5" x2="932.5" y2="263.7" stroke="#F23645" stroke-width="1" stroke-opacity="0.9"/>
<rect x="930.13" y="246.1" width="4.3" height="2.7" fill="#F23645"/>
<line x1="938.5" y1="236.8" x2="938.5" y2="268.0" stroke="#F23645" stroke-width="1" stroke-opacity="0.9"/>
<rect x="936.79" y="250.0" width="4.3" height="8.3" fill="#F23645"/>
<line x1="945.5" y1="217.0" x2="945.5" y2="261.9" stroke="#089981" stroke-width="1" stroke-opacity="0.9"/>
<rect x="943.45" y="236.8" width="4.3" height="21.9" fill="#089981"/>
<line x1="952.5" y1="170.4" x2="952.5" y2="238.9" stroke="#089981" stroke-width="1" stroke-opacity="0.9"/>
<rect x="950.11" y="180.1" width="4.3" height="57.4" fill="#089981"/>
<line x1="958.5" y1="166.3" x2="958.5" y2="198.6" stroke="#F23645" stroke-width="1" stroke-opacity="0.9"/>
<rect x="956.77" y="180.1" width="4.3" height="13.1" fill="#F23645"/>
<line x1="965.5" y1="177.9" x2="965.5" y2="217.9" stroke="#F23645" stroke-width="1" stroke-opacity="0.9"/>
<rect x="963.43" y="192.3" width="4.3" height="25.6" fill="#F23645"/>
<line x1="972.5" y1="203.0" x2="972.5" y2="243.4" stroke="#F23645" stroke-width="1" stroke-opacity="0.9"/>
<rect x="970.09" y="217.9" width="4.3" height="3.1" fill="#F23645"/>
<line x1="978.5" y1="82.8" x2="978.5" y2="307.2" stroke="#F23645" stroke-width="1" stroke-opacity="0.9"/>
<rect x="976.75" y="221.9" width="4.3" height="20.3" fill="#F23645"/>
<line x1="985.5" y1="229.0" x2="985.5" y2="390.5" stroke="#F23645" stroke-width="1" stroke-opacity="0.9"/>
<rect x="983.41" y="241.5" width="4.3" height="138.8" fill="#F23645"/>
<line x1="992.5" y1="276.9" x2="992.5" y2="386.7" stroke="#089981" stroke-width="1" stroke-opacity="0.9"/>
<rect x="990.07" y="296.4" width="4.3" height="83.9" fill="#089981"/>
<line x1="998.5" y1="291.8" x2="998.5" y2="353.3" stroke="#F23645" stroke-width="1" stroke-opacity="0.9"/>
<rect x="996.73" y="296.4" width="4.3" height="31.3" fill="#F23645"/>
<line x1="1005.5" y1="318.7" x2="1005.5" y2="368.2" stroke="#F23645" stroke-width="1" stroke-opacity="0.9"/>
<rect x="1003.39" y="329.0" width="4.3" height="14.1" fill="#F23645"/>
<line x1="1012.5" y1="335.4" x2="1012.5" y2="363.6" stroke="#F23645" stroke-width="1" stroke-opacity="0.9"/>
<rect x="1010.05" y="343.1" width="4.3" height="14.9" fill="#F23645"/>
<line x1="1018.5" y1="322.6" x2="1018.5" y2="376.9" stroke="#089981" stroke-width="1" stroke-opacity="0.9"/>
<rect x="1016.71" y="352.0" width="4.3" height="6.5" fill="#089981"/>
<line x1="1025.5" y1="344.4" x2="1025.5" y2="371.3" stroke="#F23645" stroke-width="1" stroke-opacity="0.9"/>
<rect x="1023.37" y="352.8" width="4.3" height="3.6" fill="#F23645"/>
<line x1="1032.5" y1="349.5" x2="1032.5" y2="382.8" stroke="#F23645" stroke-width="1" stroke-opacity="0.9"/>
<rect x="1030.03" y="355.9" width="4.3" height="12.8" fill="#F23645"/>
<line x1="1038.5" y1="364.9" x2="1038.5" y2="385.4" stroke="#F23645" stroke-width="1" stroke-opacity="0.9"/>
<rect x="1036.69" y="367.4" width="4.3" height="9.5" fill="#F23645"/>
<line x1="1045.5" y1="355.0" x2="1045.5" y2="376.9" stroke="#089981" stroke-width="1" stroke-opacity="0.9"/>
<rect x="1043.35" y="363.6" width="4.3" height="13.3" fill="#089981"/>
<line x1="1052.5" y1="361.8" x2="1052.5" y2="379.5" stroke="#F23645" stroke-width="1" stroke-opacity="0.9"/>
<rect x="1050.01" y="363.6" width="4.3" height="2.6" fill="#F23645"/>
<line x1="1058.5" y1="363.6" x2="1058.5" y2="389.2" stroke="#F23645" stroke-width="1" stroke-opacity="0.9"/>
<rect x="1056.67" y="366.2" width="4.3" height="19.2" fill="#F23645"/>
<line x1="1065.5" y1="382.8" x2="1065.5" y2="416.2" stroke="#F23645" stroke-width="1" stroke-opacity="0.9"/>
<rect x="1063.33" y="385.4" width="4.3" height="22.3" fill="#F23645"/>
<line x1="1072.5" y1="379.0" x2="1072.5" y2="411.0" stroke="#089981" stroke-width="1" stroke-opacity="0.9"/>
<rect x="1069.99" y="380.3" width="4.3" height="27.4" fill="#089981"/>
<line x1="1078.5" y1="301.3" x2="1078.5" y2="380.3" stroke="#089981" stroke-width="1" stroke-opacity="0.9"/>
<rect x="1076.65" y="307.2" width="4.3" height="73.1" fill="#089981"/>
<line x1="1085.5" y1="295.0" x2="1085.5" y2="317.0" stroke="#089981" stroke-width="1" stroke-opacity="0.9"/>
<rect x="1083.31" y="304.2" width="4.3" height="3.3" fill="#089981"/>
<line x1="1092.5" y1="290.8" x2="1092.5" y2="316.3" stroke="#089981" stroke-width="1" stroke-opacity="0.9"/>
<rect x="1089.97" y="302.0" width="4.3" height="2.2" fill="#089981"/>
<line x1="1098.5" y1="264.2" x2="1098.5" y2="303.0" stroke="#089981" stroke-width="1" stroke-opacity="0.9"/>
<rect x="1096.63" y="278.0" width="4.3" height="25.0" fill="#089981"/>
<line x1="1105.5" y1="265.8" x2="1105.5" y2="288.7" stroke="#F23645" stroke-width="1" stroke-opacity="0.9"/>
<rect x="1103.29" y="278.0" width="4.3" height="9.0" fill="#F23645"/>
<line x1="1112.5" y1="282.5" x2="1112.5" y2="330.8" stroke="#F23645" stroke-width="1" stroke-opacity="0.9"/>
<rect x="1109.95" y="286.3" width="4.3" height="32.4" fill="#F23645"/>
<line x1="1118.5" y1="291.7" x2="1118.5" y2="328.3" stroke="#089981" stroke-width="1" stroke-opacity="0.9"/>
<rect x="1116.61" y="314.2" width="4.3" height="4.5" fill="#089981"/>
<line x1="1125.5" y1="290.8" x2="1125.5" y2="318.7" stroke="#089981" stroke-width="1" stroke-opacity="0.9"/>
<rect x="1123.27" y="302.0" width="4.3" height="12.7" fill="#089981"/>
<line x1="1132.5" y1="299.7" x2="1132.5" y2="325.8" stroke="#F23645" stroke-width="1" stroke-opacity="0.9"/>
<rect x="1129.93" y="303.0" width="4.3" height="18.3" fill="#F23645"/>
<line x1="1138.5" y1="317.5" x2="1138.5" y2="335.8" stroke="#089981" stroke-width="1" stroke-opacity="0.9"/>
<rect x="1136.59" y="318.3" width="4.3" height="3.0" fill="#089981"/>
<line x1="1145.5" y1="315.8" x2="1145.5" y2="327.5" stroke="#F23645" stroke-width="1" stroke-opacity="0.9"/>
<rect x="1143.25" y="318.3" width="4.3" height="7.5" fill="#F23645"/>
<line x1="1152.5" y1="320.8" x2="1152.5" y2="330.8" stroke="#089981" stroke-width="1" stroke-opacity="0.9"/>
<rect x="1149.91" y="322.0" width="4.3" height="3.3" fill="#089981"/>
<line x1="1158.5" y1="309.2" x2="1158.5" y2="335.0" stroke="#F23645" stroke-width="1" stroke-opacity="0.9"/>
<rect x="1156.57" y="322.0" width="4.3" height="7.7" fill="#F23645"/>
<line x1="1165.5" y1="324.7" x2="1165.5" y2="333.3" stroke="#089981" stroke-width="1" stroke-opacity="0.9"/>
<rect x="1163.23" y="325.8" width="4.3" height="3.9" fill="#089981"/>
<line x1="1172.5" y1="324.7" x2="1172.5" y2="345.3" stroke="#F23645" stroke-width="1" stroke-opacity="0.9"/>
<rect x="1169.89" y="325.8" width="4.3" height="13.4" fill="#F23645"/>
<line x1="1178.5" y1="321.3" x2="1178.5" y2="342.5" stroke="#089981" stroke-width="1" stroke-opacity="0.9"/>
<rect x="1176.55" y="325.0" width="4.3" height="14.2" fill="#089981"/>
<line x1="1185.5" y1="322.0" x2="1185.5" y2="337.5" stroke="#F23645" stroke-width="1" stroke-opacity="0.9"/>
<rect x="1183.21" y="325.0" width="4.3" height="10.8" fill="#F23645"/>
<line x1="1192.5" y1="327.0" x2="1192.5" y2="335.0" stroke="#089981" stroke-width="1" stroke-opacity="0.9"/>
<rect x="1189.87" y="330.3" width="4.3" height="4.4" fill="#089981"/>
<line x1="1198.5" y1="322.0" x2="1198.5" y2="340.8" stroke="#F23645" stroke-width="1" stroke-opacity="0.9"/>
<rect x="1196.53" y="330.3" width="4.3" height="9.2" fill="#F23645"/>
<line x1="1205.5" y1="336.2" x2="1205.5" y2="365.9" stroke="#F23645" stroke-width="1" stroke-opacity="0.9"/>
<rect x="1203.19" y="339.2" width="4.3" height="18.5" fill="#F23645"/>
<line x1="1212.5" y1="344.4" x2="1212.5" y2="406.9" stroke="#F23645" stroke-width="1" stroke-opacity="0.9"/>
<rect x="1209.85" y="358.3" width="4.3" height="8.2" fill="#F23645"/>
<line x1="1218.5" y1="353.0" x2="1218.5" y2="381.3" stroke="#F23645" stroke-width="1" stroke-opacity="0.9"/>
<rect x="1216.51" y="367.3" width="4.3" height="9.9" fill="#F23645"/>
<line x1="1225.5" y1="376.2" x2="1225.5" y2="400.8" stroke="#F23645" stroke-width="1" stroke-opacity="0.9"/>
<rect x="1223.17" y="376.2" width="4.3" height="20.5" fill="#F23645"/>
<line x1="1231.5" y1="383.7" x2="1231.5" y2="471.5" stroke="#F23645" stroke-width="1" stroke-opacity="0.9"/>
<rect x="1229.83" y="396.7" width="4.3" height="62.1" fill="#F23645"/>
<line x1="1238.5" y1="428.5" x2="1238.5" y2="483.4" stroke="#089981" stroke-width="1" stroke-opacity="0.9"/>
<rect x="1236.49" y="433.6" width="4.3" height="25.2" fill="#089981"/>
<line x1="1245.5" y1="408.0" x2="1245.5" y2="438.7" stroke="#089981" stroke-width="1" stroke-opacity="0.9"/>
<rect x="1243.15" y="413.7" width="4.3" height="19.9" fill="#089981"/>
<line x1="1251.5" y1="408.4" x2="1251.5" y2="444.9" stroke="#F23645" stroke-width="1" stroke-opacity="0.9"/>
<rect x="1249.81" y="413.7" width="4.3" height="24.0" fill="#F23645"/>
<line x1="1258.5" y1="410.4" x2="1258.5" y2="439.7" stroke="#089981" stroke-width="1" stroke-opacity="0.9"/>
<rect x="1256.47" y="413.1" width="4.3" height="25.2" fill="#089981"/>
<line x1="1265.5" y1="413.1" x2="1265.5" y2="426.5" stroke="#F23645" stroke-width="1" stroke-opacity="0.9"/>
<rect x="1263.13" y="413.1" width="4.3" height="12.3" fill="#F23645"/>
<line x1="1271.5" y1="420.3" x2="1271.5" y2="438.3" stroke="#F23645" stroke-width="1" stroke-opacity="0.9"/>
<rect x="1269.79" y="425.4" width="4.3" height="1.2" fill="#F23645"/>
<line x1="1278.5" y1="419.8" x2="1278.5" y2="429.9" stroke="#089981" stroke-width="1" stroke-opacity="0.9"/>
<rect x="1276.45" y="424.8" width="4.3" height="1.2" fill="#089981"/>
<line x1="1285.5" y1="424.8" x2="1285.5" y2="430.5" stroke="#F23645" stroke-width="1" stroke-opacity="0.9"/>
<rect x="1283.11" y="425.4" width="4.3" height="3.1" fill="#F23645"/>
<line x1="1291.5" y1="426.0" x2="1291.5" y2="434.6" stroke="#F23645" stroke-width="1" stroke-opacity="0.9"/>
<rect x="1289.77" y="428.5" width="4.3" height="3.5" fill="#F23645"/>
<line x1="1298.5" y1="428.0" x2="1298.5" y2="433.6" stroke="#089981" stroke-width="1" stroke-opacity="0.9"/>
<rect x="1296.43" y="429.0" width="4.3" height="3.0" fill="#089981"/>
<line x1="1305.5" y1="420.8" x2="1305.5" y2="432.8" stroke="#089981" stroke-width="1" stroke-opacity="0.9"/>
<rect x="1303.09" y="424.2" width="4.3" height="4.3" fill="#089981"/>
<line x1="1311.5" y1="423.0" x2="1311.5" y2="434.6" stroke="#F23645" stroke-width="1" stroke-opacity="0.9"/>
<rect x="1309.75" y="423.8" width="4.3" height="5.9" fill="#F23645"/>
<line x1="1318.5" y1="424.2" x2="1318.5" y2="430.3" stroke="#089981" stroke-width="1" stroke-opacity="0.9"/>
<rect x="1316.41" y="425.0" width="4.3" height="4.7" fill="#089981"/>
<line x1="1325.5" y1="424.2" x2="1325.5" y2="432.8" stroke="#F23645" stroke-width="1" stroke-opacity="0.9"/>
<rect x="1323.07" y="425.0" width="4.3" height="1.9" fill="#F23645"/>
<line x1="1331.5" y1="421.5" x2="1331.5" y2="427.7" stroke="#089981" stroke-width="1" stroke-opacity="0.9"/>
<rect x="1329.73" y="425.0" width="4.3" height="1.2" fill="#089981"/>
<line x1="1338.5" y1="424.2" x2="1338.5" y2="431.5" stroke="#F23645" stroke-width="1" stroke-opacity="0.9"/>
<rect x="1336.39" y="425.0" width="4.3" height="4.7" fill="#F23645"/>
<line x1="1345.5" y1="421.5" x2="1345.5" y2="436.2" stroke="#089981" stroke-width="1" stroke-opacity="0.9"/>
<rect x="1343.05" y="426.6" width="4.3" height="3.1" fill="#089981"/>
<line x1="1351.5" y1="423.0" x2="1351.5" y2="428.5" stroke="#089981" stroke-width="1" stroke-opacity="0.9"/>
<rect x="1349.71" y="425.7" width="4.3" height="2.0" fill="#089981"/>
<line x1="1358.5" y1="391.5" x2="1358.5" y2="426.2" stroke="#089981" stroke-width="1" stroke-opacity="0.9"/>
<rect x="1356.37" y="396.5" width="4.3" height="29.7" fill="#089981"/>
<line x1="1365.5" y1="395.4" x2="1365.5" y2="404.6" stroke="#F23645" stroke-width="1" stroke-opacity="0.9"/>
<rect x="1363.03" y="396.5" width="4.3" height="5.8" fill="#F23645"/>
<line x1="1371.5" y1="392.8" x2="1371.5" y2="406.2" stroke="#089981" stroke-width="1" stroke-opacity="0.9"/>
<rect x="1369.69" y="393.8" width="4.3" height="8.5" fill="#089981"/>
<line x1="1378.5" y1="385.4" x2="1378.5" y2="394.3" stroke="#089981" stroke-width="1" stroke-opacity="0.9"/>
<rect x="1376.35" y="390.8" width="4.3" height="3.5" fill="#089981"/>
<line x1="1385.5" y1="358.5" x2="1385.5" y2="392.3" stroke="#089981" stroke-width="1" stroke-opacity="0.9"/>
<rect x="1383.01" y="360.5" width="4.3" height="30.3" fill="#089981"/>
<line x1="1391.5" y1="340.8" x2="1391.5" y2="367.7" stroke="#F23645" stroke-width="1" stroke-opacity="0.9"/>
<rect x="1389.67" y="360.5" width="4.3" height="6.1" fill="#F23645"/>
<line x1="1398.5" y1="357.7" x2="1398.5" y2="369.7" stroke="#089981" stroke-width="1" stroke-opacity="0.9"/>
<rect x="1396.33" y="358.9" width="4.3" height="6.8" fill="#089981"/>
<circle cx="220" cy="403.5" r="8.4" fill="rgba(242,54,69,0.42)"/>
<circle cx="246.2" cy="415.6" r="8.4" fill="rgba(242,54,69,0.42)"/>
<circle cx="292.7" cy="345.8" r="8.4" fill="rgba(242,54,69,0.42)"/>
<circle cx="319.6" cy="354.4" r="8.4" fill="rgba(242,54,69,0.42)"/>
<circle cx="326" cy="360.2" r="8.4" fill="rgba(242,54,69,0.42)"/>
<circle cx="379.2" cy="220.4" r="8.4" fill="rgba(242,54,69,0.42)"/>
<circle cx="386.2" cy="226.5" r="8.4" fill="rgba(242,54,69,0.42)"/>
<circle cx="399.2" cy="229.6" r="8.4" fill="rgba(242,54,69,0.42)"/>
<circle cx="407.3" cy="233.1" r="8.4" fill="rgba(242,54,69,0.42)"/>
<circle cx="385.8" cy="254.2" r="8.4" fill="rgba(242,54,69,0.42)"/>
<circle cx="398.8" cy="251.9" r="8.4" fill="rgba(242,54,69,0.42)"/>
<circle cx="532.5" cy="340.8" r="8.4" fill="rgba(242,54,69,0.42)"/>
<circle cx="559.2" cy="335" r="8.4" fill="rgba(242,54,69,0.42)"/>
<circle cx="578" cy="312.7" r="8.4" fill="rgba(242,54,69,0.42)"/>
<circle cx="598.5" cy="303.7" r="8.4" fill="rgba(242,54,69,0.42)"/>
<circle cx="606.8" cy="305.6" r="8.4" fill="rgba(242,54,69,0.42)"/>
<circle cx="591.4" cy="324.9" r="8.4" fill="rgba(242,54,69,0.42)"/>
<circle cx="597.2" cy="324.2" r="8.4" fill="rgba(242,54,69,0.42)"/>
<circle cx="679.2" cy="336.3" r="8.4" fill="rgba(242,54,69,0.42)"/>
<circle cx="705" cy="345" r="8.4" fill="rgba(242,54,69,0.42)"/>
<circle cx="716.7" cy="347.5" r="8.4" fill="rgba(242,54,69,0.42)"/>
<circle cx="724.2" cy="353.3" r="8.4" fill="rgba(242,54,69,0.42)"/>
<circle cx="792.5" cy="377.3" r="8.4" fill="rgba(242,54,69,0.42)"/>
<circle cx="892.1" cy="320.9" r="8.4" fill="rgba(242,54,69,0.42)"/>
<circle cx="899.2" cy="318.2" r="8.4" fill="rgba(242,54,69,0.42)"/>
<circle cx="912.7" cy="326.8" r="8.4" fill="rgba(242,54,69,0.42)"/>
<circle cx="999" cy="291.8" r="8.4" fill="rgba(242,54,69,0.42)"/>
<circle cx="1012.6" cy="335.4" r="8.4" fill="rgba(242,54,69,0.42)"/>
<circle cx="1019.5" cy="339.2" r="8.4" fill="rgba(242,54,69,0.42)"/>
<circle cx="1112" cy="331.7" r="8.4" fill="rgba(242,54,69,0.42)"/>
<circle cx="1119.2" cy="328.3" r="8.4" fill="rgba(242,54,69,0.42)"/>
<circle cx="506.4" cy="347.9" r="8.6" fill="rgba(41,98,255,0.38)"/>
<rect x="579.5" y="294.5" width="33" height="40.5" fill="rgba(0,188,212,0.2)" stroke="#131722" stroke-width="1.5"/>
<line x1="9" y1="193.9" x2="807.5" y2="615.5" stroke="#F23645" stroke-width="2.8"/>
<line x1="379.6" y1="220" x2="1420" y2="614.8" stroke="#F23645" stroke-width="2.8"/>
<line x1="239" y1="366.5" x2="1469.0" y2="366.5" stroke="#000" stroke-width="1.5" stroke-dasharray="4.4 5"/>
<line x1="8.5" y1="358.8" x2="1469.0" y2="358.8" stroke="#089981" stroke-width="1" stroke-dasharray="1 1.6"/>
<circle cx="1398.8" cy="604" r="8.2" fill="#fff" stroke="#9c27b0" stroke-width="1.6"/>
<polyline points="1401.6,599.7 1396.3,603.8 1401.6,604 1396.4,608.3" fill="none" stroke="#9c27b0" stroke-width="1.5" stroke-linecap="round" stroke-linejoin="round"/>
</g>
<text x="15.7" y="39.9" font-family="'Liberation Sans', Arial, sans-serif" font-size="10.8" fill="#131722" textLength="112.5" lengthAdjust="spacingAndGlyphs">Binance Coin / US Dollar</text>
<text x="132.3" y="39.9" font-family="'Liberation Sans', Arial, sans-serif" font-size="10.8" fill="#131722" textLength="130.9" lengthAdjust="spacingAndGlyphs">(calculated by TradingView),</text>
<text x="268.5" y="39.9" font-family="'Liberation Sans', Arial, sans-serif" font-size="10.8" fill="#131722" textLength="13.4" lengthAdjust="spacingAndGlyphs">1D,</text>
<text x="286.5" y="39.9" font-family="'Liberation Sans', Arial, sans-serif" font-size="10.8" fill="#131722" textLength="38.8" lengthAdjust="spacingAndGlyphs">BINANCE</text>
<text x="331.9" y="39.9" font-family="'Liberation Sans', Arial, sans-serif" font-size="10.8" fill="#131722">O</text>
<text x="339.5" y="39.9" font-family="'Liberation Sans', Arial, sans-serif" font-size="10.8" fill="#089981" textLength="24.6" lengthAdjust="spacingAndGlyphs">272.6</text>
<text x="371.1" y="39.9" font-family="'Liberation Sans', Arial, sans-serif" font-size="10.8" fill="#131722">H</text>
<text x="377.7" y="39.9" font-family="'Liberation Sans', Arial, sans-serif" font-size="10.8" fill="#089981" textLength="24.6" lengthAdjust="spacingAndGlyphs">276.2</text>
<text x="410.2" y="39.9" font-family="'Liberation Sans', Arial, sans-serif" font-size="10.8" fill="#131722">L</text>
<text x="414.8" y="39.9" font-family="'Liberation Sans', Arial, sans-serif" font-size="10.8" fill="#089981" textLength="24.7" lengthAdjust="spacingAndGlyphs">270.5</text>
<text x="446.1" y="39.9" font-family="'Liberation Sans', Arial, sans-serif" font-size="10.8" fill="#131722">C</text>
<text x="452.5" y="39.9" font-family="'Liberation Sans', Arial, sans-serif" font-size="10.8" fill="#089981" textLength="24.6" lengthAdjust="spacingAndGlyphs">275.5</text>
<text x="484.1" y="39.9" font-family="'Liberation Sans', Arial, sans-serif" font-size="10.8" fill="#089981" textLength="19.2" lengthAdjust="spacingAndGlyphs">+2.9</text>
<text x="507.6" y="39.9" font-family="'Liberation Sans', Arial, sans-serif" font-size="10.8" fill="#089981" textLength="37.9" lengthAdjust="spacingAndGlyphs">(+1.06%)</text>
<text x="15.6" y="54.1" font-family="'Liberation Sans', Arial, sans-serif" font-size="10.5" fill="#131722">MA</text>
<text x="15.6" y="68.7" font-family="'Liberation Sans', Arial, sans-serif" font-size="10.5" fill="#131722">Pivots</text>
<text x="15.6" y="83.4" font-family="'Liberation Sans', Arial, sans-serif" font-size="10.5" fill="#131722">MA</text>
<g clip-path="url(#cr)">
<rect x="8.5" y="646.1" width="1460.5" height="61.5" fill="rgba(126,87,194,0.1)"/>
<line x1="8.5" y1="646.1" x2="1469.0" y2="646.1" stroke="#787b86" stroke-opacity="1" stroke-width="1" stroke-dasharray="4 5.6"/>
<line x1="8.5" y1="676.9" x2="1469.0" y2="676.9" stroke="#787b86" stroke-opacity="0.5" stroke-width="1" stroke-dasharray="4 5.6"/>
<line x1="8.5" y1="707.6" x2="1469.0" y2="707.6" stroke="#787b86" stroke-opacity="1" stroke-width="1" stroke-dasharray="4 5.6"/>
<polyline points="9.2,711.0 13.2,715.2 19.9,710.7 26.5,716.0 33.2,702.8 39.8,701.6 46.5,699.1 53.2,701.6 59.8,691.2 66.5,684.3 73.1,684.3 79.8,687.2 86.5,687.5 93.1,691.0 99.8,694.7 106.4,694.9 113.1,696.6 119.8,695.4 126.4,694.2 133.1,682.3 139.7,683.0 146.4,676.4 153.1,673.4 159.7,674.4 166.4,671.9 173.0,680.6 179.7,687.5 186.4,691.2 193.0,681.3 199.7,674.4 206.3,673.9 213.0,665.0 219.7,666.5 226.3,655.3 233.0,652.9 239.6,663.2 246.3,658.5 253.0,662.0 259.6,665.2 266.3,663.2 272.9,678.8 279.6,674.9 286.3,660.0 292.9,656.6 299.6,648.4 306.2,654.1 312.9,657.8 319.6,658.3 326.2,657.6 332.9,649.6 339.5,643.5 346.2,641.5 352.9,642.7 359.5,639.2 366.2,638.5 372.8,639.0 379.5,637.3 386.2,644.0 392.8,641.5 399.5,646.7 406.1,655.1 412.8,653.8 419.5,658.3 426.1,668.9 432.8,678.1 439.4,692.9 446.1,688.5 452.8,673.1 459.4,674.4 466.1,675.1 472.7,677.6 479.4,673.1 486.1,690.0 492.7,691.0 499.4,692.2 506.0,682.3 512.7,686.0 519.4,687.5 526.0,688.5 532.7,689.2 539.3,688.7 546.0,687.2 552.7,689.2 559.3,701.6 566.0,682.3 572.6,680.6 579.3,668.9 586.0,666.2 592.6,667.5 599.3,668.9 605.9,684.8 612.6,682.5 619.3,689.7 625.9,685.5 632.6,681.1 639.2,691.2 645.9,685.5 652.6,689.7 659.2,691.2 665.9,679.8 672.5,678.8 679.2,680.6 685.9,680.8 692.5,678.8 699.2,682.3 705.8,672.6 712.5,669.7 719.2,668.9 725.8,671.4 732.5,669.4 739.1,666.5 745.8,657.3 752.5,660.3 759.1,670.7 765.8,676.9 772.4,683.5 779.1,681.1 785.8,688.0 792.4,688.5 799.1,689.2 805.7,687.5 812.4,690.5 819.1,692.2 825.7,684.3 832.4,679.3 839.0,682.5 845.7,684.8 852.4,688.7 859.0,686.7 865.7,686.3 872.3,675.1 879.0,678.6 885.7,662.5 892.3,655.1 899.0,661.5 905.6,650.4 912.3,645.4 919.0,639.2 925.6,632.3 932.3,635.5 938.9,641.5 945.6,636.0 952.3,626.6 958.9,634.3 965.6,647.2 972.2,649.1 978.9,659.5 985.6,697.4 992.2,677.3 998.9,683.0 1005.5,686.0 1012.2,688.5 1018.9,687.2 1025.5,688.0 1032.2,690.5 1038.8,692.2 1045.5,688.0 1052.2,688.7 1058.8,693.4 1065.5,697.9 1072.1,688.5 1078.8,669.4 1085.5,668.7 1092.1,668.2 1098.8,662.7 1105.4,665.7 1112.1,674.4 1118.8,673.1 1125.4,670.2 1132.1,675.6 1138.7,675.1 1145.4,677.3 1152.1,676.4 1158.7,678.8 1165.4,677.3 1172.0,682.3 1178.7,676.9 1185.4,680.6 1192.0,678.6 1198.7,681.8 1205.3,688.0 1212.0,691.2 1218.7,695.4 1225.3,701.1 1232.0,714.5 1238.6,702.8 1245.3,694.7 1252.0,699.9 1258.6,690.5 1265.3,693.7 1271.9,693.7 1278.6,693.4 1285.3,694.2 1291.9,695.4 1298.6,694.2 1305.2,691.2 1311.9,692.9 1318.6,690.5 1325.2,691.0 1331.9,690.5 1338.5,692.4 1345.2,691.0 1351.9,689.2 1358.5,671.4 1365.2,674.4 1371.8,669.9 1378.5,667.7 1385.2,654.1 1391.8,657.8 1398.5,655.1" fill="none" stroke="#7e57c2" stroke-width="1.2" stroke-linejoin="round"/>
</g>
<text x="15.3" y="631.6" font-family="'Liberation Sans', Arial, sans-serif" font-size="10.5" fill="#131722" textLength="13.9" lengthAdjust="spacingAndGlyphs">RSI</text>
<rect x="8.5" y="23.5" width="1519.0" height="726.0" fill="none" stroke="#e3e5ec" stroke-width="1.4"/>
<line x1="8.5" y1="615.5" x2="1527.5" y2="615.5" stroke="#e3e5ec" stroke-width="1.2"/>
<text x="1477.7" y="38.9" font-family="'Liberation Sans', Arial, sans-serif" font-size="10.6" fill="#131722" textLength="17.4" lengthAdjust="spacingAndGlyphs">USD</text>
<text x="1478" y="578.1" font-family="'Liberation Sans', Arial, sans-serif" font-size="10.6" fill="#131722" textLength="25" lengthAdjust="spacingAndGlyphs">180.0</text>
<text x="1478" y="533.0" font-family="'Liberation Sans', Arial, sans-serif" font-size="10.6" fill="#131722" textLength="25" lengthAdjust="spacingAndGlyphs">200.0</text>
<text x="1478" y="487.8" font-family="'Liberation Sans', Arial, sans-serif" font-size="10.6" fill="#131722" textLength="25" lengthAdjust="spacingAndGlyphs">220.0</text>
<text x="1478" y="442.7" font-family="'Liberation Sans', Arial, sans-serif" font-size="10.6" fill="#131722" textLength="25" lengthAdjust="spacingAndGlyphs">240.0</text>
<text x="1478" y="397.5" font-family="'Liberation Sans', Arial, sans-serif" font-size="10.6" fill="#131722" textLength="25" lengthAdjust="spacingAndGlyphs">260.0</text>
<text x="1478" y="352.4" font-family="'Liberation Sans', Arial, sans-serif" font-size="10.6" fill="#131722" textLength="25" lengthAdjust="spacingAndGlyphs">280.0</text>
<text x="1478" y="307.2" font-family="'Liberation Sans', Arial, sans-serif" font-size="10.6" fill="#131722" textLength="25" lengthAdjust="spacingAndGlyphs">300.0</text>
<text x="1478" y="262.1" font-family="'Liberation Sans', Arial, sans-serif" font-size="10.6" fill="#131722" textLength="25" lengthAdjust="spacingAndGlyphs">320.0</text>
<text x="1478" y="216.9" font-family="'Liberation Sans', Arial, sans-serif" font-size="10.6" fill="#131722" textLength="25" lengthAdjust="spacingAndGlyphs">340.0</text>
<text x="1478" y="171.8" font-family="'Liberation Sans', Arial, sans-serif" font-size="10.6" fill="#131722" textLength="25" lengthAdjust="spacingAndGlyphs">360.0</text>
<text x="1478" y="126.6" font-family="'Liberation Sans', Arial, sans-serif" font-size="10.6" fill="#131722" textLength="25" lengthAdjust="spacingAndGlyphs">380.0</text>
<text x="1478" y="81.5" font-family="'Liberation Sans', Arial, sans-serif" font-size="10.6" fill="#131722" textLength="25" lengthAdjust="spacingAndGlyphs">400.0</text>
<text x="1478" y="634.7" font-family="'Liberation Sans', Arial, sans-serif" font-size="10.6" fill="#131722" textLength="24.8" lengthAdjust="spacingAndGlyphs">80.00</text>
<text x="1478" y="665.4" font-family="'Liberation Sans', Arial, sans-serif" font-size="10.6" fill="#131722" textLength="24.8" lengthAdjust="spacingAndGlyphs">60.00</text>
<text x="1478" y="696.2" font-family="'Liberation Sans', Arial, sans-serif" font-size="10.6" fill="#131722" textLength="24.8" lengthAdjust="spacingAndGlyphs">40.00</text>
<text x="1478" y="726.9" font-family="'Liberation Sans', Arial, sans-serif" font-size="10.6" fill="#131722" textLength="24.8" lengthAdjust="spacingAndGlyphs">20.00</text>
<rect x="1469" y="95.7" width="39" height="14.299999999999997" rx="1.5" fill="#000"/>
<text x="1478" y="106.8" font-family="'Liberation Sans', Arial, sans-serif" font-size="10.6" font-weight="bold" fill="#fff" textLength="25" lengthAdjust="spacingAndGlyphs">389.2</text>
<rect x="1469" y="214.9" width="39" height="13.699999999999989" rx="1.5" fill="#000"/>
<text x="1478" y="225.7" font-family="'Liberation Sans', Arial, sans-serif" font-size="10.6" font-weight="bold" fill="#fff" textLength="25" lengthAdjust="spacingAndGlyphs">336.5</text>
<rect x="1469" y="243.2" width="39" height="13.800000000000011" rx="1.5" fill="#2962FF"/>
<text x="1478" y="254.0" font-family="'Liberation Sans', Arial, sans-serif" font-size="10.6" font-weight="bold" fill="#fff" textLength="25" lengthAdjust="spacingAndGlyphs">323.8</text>
<rect x="1469" y="493.5" width="39" height="14.0" rx="1.5" fill="#000"/>
<text x="1478" y="504.4" font-family="'Liberation Sans', Arial, sans-serif" font-size="10.6" font-weight="bold" fill="#fff" textLength="25" lengthAdjust="spacingAndGlyphs">212.5</text>
<rect x="1469" y="351.9" width="54" height="25.9" rx="1.5" fill="#089981"/>
<text x="1478" y="362.8" font-family="'Liberation Sans', Arial, sans-serif" font-size="10.6" font-weight="bold" fill="#fff" textLength="25" lengthAdjust="spacingAndGlyphs">275.5</text>
<text x="1478" y="375.2" font-family="'Liberation Sans', Arial, sans-serif" font-size="10.6" fill="rgba(255,255,255,0.8)" textLength="38.5" lengthAdjust="spacingAndGlyphs">13:48:41</text>
<rect x="1469" y="378.5" width="39" height="14.199999999999989" rx="1.5" fill="#000"/>
<text x="1478" y="389.5" font-family="'Liberation Sans', Arial, sans-serif" font-size="10.6" font-weight="bold" fill="#fff" textLength="25" lengthAdjust="spacingAndGlyphs">272.2</text>
<text x="113.1" y="741.2" font-family="'Liberation Sans', Arial, sans-serif" font-size="10.6" fill="#131722" text-anchor="middle">Jul</text>
<text x="226.3" y="741.2" font-family="'Liberation Sans', Arial, sans-serif" font-size="10.6" fill="#131722" text-anchor="middle">18</text>
<text x="319.6" y="741.2" font-family="'Liberation Sans', Arial, sans-serif" font-size="10.6" fill="#131722" text-anchor="middle">Aug</text>
<text x="412.8" y="741.2" font-family="'Liberation Sans', Arial, sans-serif" font-size="10.6" fill="#131722" text-anchor="middle">15</text>
<text x="526.0" y="741.2" font-family="'Liberation Sans', Arial, sans-serif" font-size="10.6" fill="#131722" text-anchor="middle">Sep</text>
<text x="599.3" y="741.2" font-family="'Liberation Sans', Arial, sans-serif" font-size="10.6" fill="#131722" text-anchor="middle">12</text>
<text x="725.8" y="741.2" font-family="'Liberation Sans', Arial, sans-serif" font-size="10.6" fill="#131722" text-anchor="middle">Oct</text>
<text x="832.4" y="741.2" font-family="'Liberation Sans', Arial, sans-serif" font-size="10.6" fill="#131722" text-anchor="middle">17</text>
<text x="932.3" y="741.2" font-family="'Liberation Sans', Arial, sans-serif" font-size="10.6" fill="#131722" text-anchor="middle">Nov</text>
<text x="1018.9" y="741.2" font-family="'Liberation Sans', Arial, sans-serif" font-size="10.6" fill="#131722" text-anchor="middle">14</text>
<text x="1132.1" y="741.2" font-family="'Liberation Sans', Arial, sans-serif" font-size="10.6" fill="#131722" text-anchor="middle">Dec</text>
<text x="1205.3" y="741.2" font-family="'Liberation Sans', Arial, sans-serif" font-size="10.6" fill="#131722" text-anchor="middle">12</text>
<text x="1338.5" y="741.2" font-family="'Liberation Sans', Arial, sans-serif" font-size="10.6" fill="#131722" text-anchor="middle" font-weight="bold">2023</text>
<text x="1438.4" y="741.2" font-family="'Liberation Sans', Arial, sans-serif" font-size="10.6" fill="#131722" text-anchor="middle">16</text>
<g transform="translate(8.5,758.2) scale(0.46)"><path d="M14 22H7V11H0V4h14v18zM28 22h-8l7.5-18h8L28 22z" fill="#131722"/><circle cx="20" cy="8" r="4" fill="#131722"/></g>
<text x="28.3" y="768.6" font-family="'Liberation Sans', Arial, sans-serif" font-size="11" fill="#3b3e47" textLength="60.6" lengthAdjust="spacingAndGlyphs">TradingView</text>
</svg>
</body></html>
